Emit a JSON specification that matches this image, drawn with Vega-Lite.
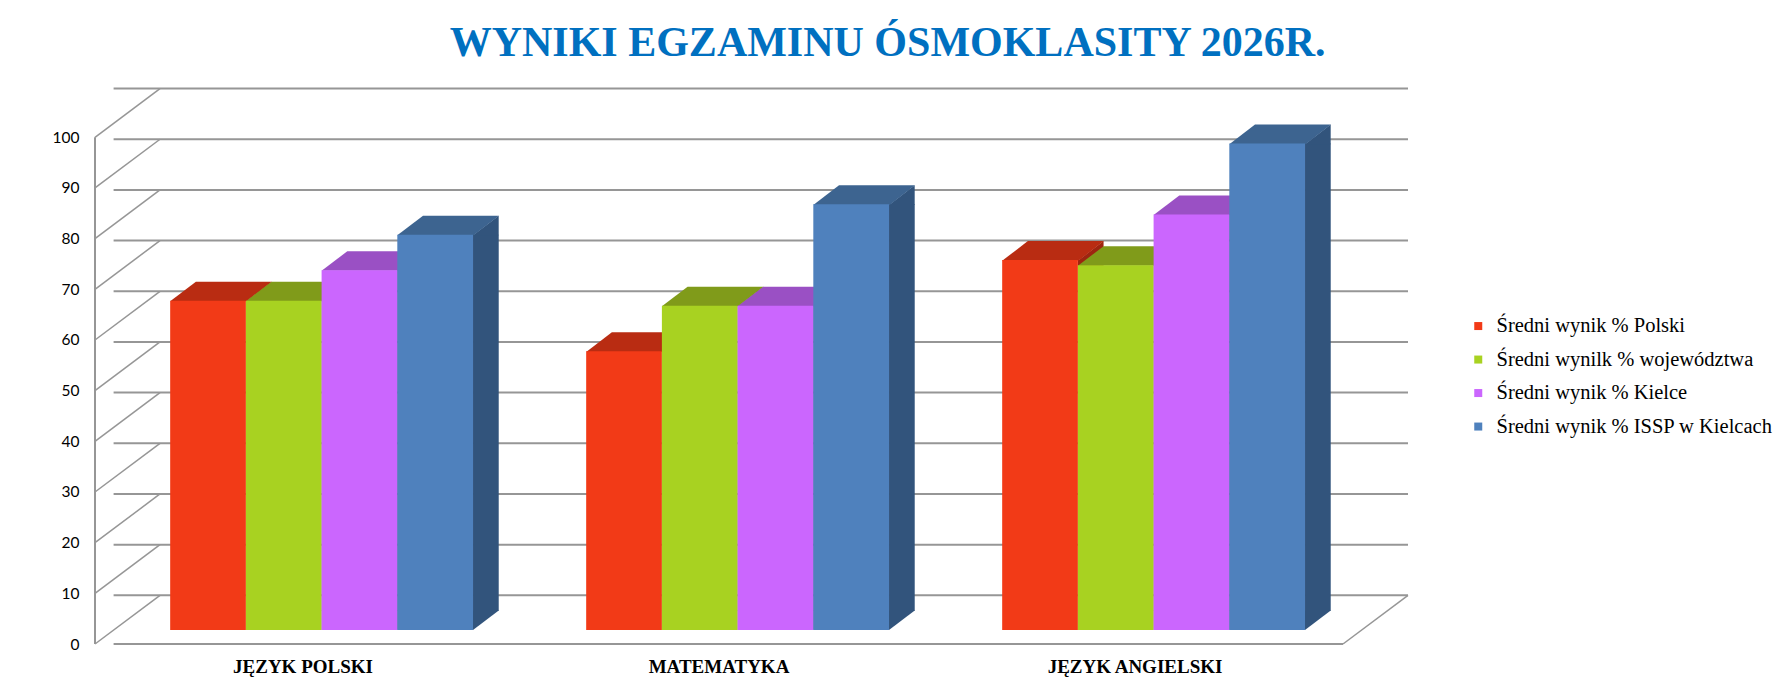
{
  "$schema": "https://vega.github.io/schema/vega-lite/v6.json",
  "description": "Wyniki egzaminu osmoklasisty 2026 - pseudo 3D grouped columns.",
  "autosize": {"type": "none"},
  "width": 1248,
  "height": 506.7,
  "padding": {"left": 113.6, "top": 123.3, "right": 428.4, "bottom": 62},
  "background": "white",
  "title": {
    "text": "WYNIKI EGZAMINU ÓSMOKLASITY 2026R.",
    "font": "Liberation Serif",
    "fontSize": 42,
    "fontWeight": "bold",
    "color": "#0070C0",
    "anchor": "middle",
    "frame": "group",
    "baseline": "alphabetic",
    "dx": 150,
    "dy": 44,
    "offset": 34
  },
  "datasets": {
    "scores": [
      {"subject": "JĘZYK POLSKI", "series": "Średni wynik % Polski", "value": 65},
      {"subject": "JĘZYK POLSKI", "series": "Średni wynilk % województwa", "value": 65},
      {"subject": "JĘZYK POLSKI", "series": "Średni wynik % Kielce", "value": 71},
      {"subject": "JĘZYK POLSKI", "series": "Średni wynik % ISSP w Kielcach", "value": 78},
      {"subject": "MATEMATYKA", "series": "Średni wynik % Polski", "value": 55},
      {"subject": "MATEMATYKA", "series": "Średni wynilk % województwa", "value": 64},
      {"subject": "MATEMATYKA", "series": "Średni wynik % Kielce", "value": 64},
      {"subject": "MATEMATYKA", "series": "Średni wynik % ISSP w Kielcach", "value": 84},
      {"subject": "JĘZYK ANGIELSKI", "series": "Średni wynik % Polski", "value": 73},
      {"subject": "JĘZYK ANGIELSKI", "series": "Średni wynilk % województwa", "value": 72},
      {"subject": "JĘZYK ANGIELSKI", "series": "Średni wynik % Kielce", "value": 82},
      {"subject": "JĘZYK ANGIELSKI", "series": "Średni wynik % ISSP w Kielcach", "value": 96}
    ],
    "ticks": [
      {"v": 0}, {"v": 10}, {"v": 20}, {"v": 30}, {"v": 40}, {"v": 50},
      {"v": 60}, {"v": 70}, {"v": 80}, {"v": 90}, {"v": 100}
    ]
  },
  "layer": [
    {
      "data": {"name": "ticks"},
      "mark": {"type": "rule", "color": "#969696", "strokeWidth": 2, "xOffset": 46.4, "x2Offset": 46.4, "yOffset": -34.7},
      "encoding": {
        "y": {"field": "v", "type": "quantitative", "title": null, "scale": {"domain": [0, 100], "nice": false}}
      }
    },
    {
      "data": {"name": "ticks"},
      "mark": {"type": "rule", "color": "#969696", "strokeWidth": 1.5, "xOffset": -18.6, "yOffset": 14, "x2Offset": 46.4, "y2Offset": -34.7},
      "encoding": {
        "x": {"value": 0},
        "x2": {"value": 0},
        "y": {"field": "v", "type": "quantitative", "title": null},
        "y2": {"field": "v"}
      }
    },
    {
      "data": {"name": "ticks"},
      "transform": [{"filter": "datum.v == 0"}],
      "mark": {"type": "rule", "color": "#969696", "strokeWidth": 2, "xOffset": -18.6, "x2Offset": -18.6, "yOffset": 14, "y2Offset": 14},
      "encoding": {
        "x": {"value": 0},
        "x2": {"value": 0},
        "y": {"field": "v", "type": "quantitative", "title": null},
        "y2": {"datum": 100}
      }
    },
    {
      "data": {"name": "ticks"},
      "transform": [{"filter": "datum.v == 0"}],
      "mark": {"type": "rule", "color": "#969696", "strokeWidth": 2, "xOffset": -18.6, "x2Offset": -18.6, "yOffset": 14},
      "encoding": {
        "y": {"field": "v", "type": "quantitative", "title": null}
      }
    },
    {
      "data": {"name": "ticks"},
      "transform": [{"filter": "datum.v == 0"}],
      "mark": {"type": "rule", "color": "#969696", "strokeWidth": 1.5, "xOffset": -18.6, "yOffset": 14, "x2Offset": 46.4, "y2Offset": -34.7},
      "encoding": {
        "x": {"value": "width"},
        "x2": {"value": "width"},
        "y": {"field": "v", "type": "quantitative", "title": null},
        "y2": {"field": "v"}
      }
    },
    {
      "data": {"name": "scores"},
      "mark": {"type": "bar", "width": 25.7, "y2Offset": -19, "cornerRadius": 0},
      "encoding": {
        "x": {"field": "subject", "type": "nominal", "sort": null, "title": null},
        "xOffset": {"field": "series", "type": "nominal", "sort": null, "scale": {"range": [50.7, 353.55], "paddingInner": 0, "paddingOuter": 0}},
        "y": {"field": "value", "type": "quantitative", "title": null},
        "y2": {"datum": 0},
        "color": {
          "field": "series", "type": "nominal", "legend": null,
          "scale": {
            "domain": ["Średni wynik % Polski", "Średni wynilk % województwa", "Średni wynik % Kielce", "Średni wynik % ISSP w Kielcach"],
            "range": ["#9E2510", "#6E8616", "#8544A8", "#32547C"]
          }
        }
      }
    },
    {
      "data": {"name": "scores"},
      "mark": {"type": "point", "filled": true, "opacity": 1, "size": 4, "strokeWidth": 0, "shape": "M37.85,0.6 L63.55,-19 L63.55,0.6 Z"},
      "encoding": {
        "x": {"field": "subject", "type": "nominal", "sort": null, "title": null},
        "xOffset": {"field": "series", "type": "nominal", "sort": null},
        "y": {"field": "value", "type": "quantitative", "title": null},
        "color": {
          "field": "series", "type": "nominal", "legend": null,
          "scale": {
            "domain": ["Średni wynik % Polski", "Średni wynilk % województwa", "Średni wynik % Kielce", "Średni wynik % ISSP w Kielcach"],
            "range": ["#9E2510", "#6E8616", "#8544A8", "#32547C"]
          }
        }
      }
    },
    {
      "data": {"name": "scores"},
      "mark": {"type": "point", "filled": true, "opacity": 1, "size": 4, "strokeWidth": 0, "shape": "M37.85,-19.6 L63.55,-19.6 L37.85,0 Z"},
      "encoding": {
        "x": {"field": "subject", "type": "nominal", "sort": null, "title": null},
        "xOffset": {"field": "series", "type": "nominal", "sort": null},
        "y": {"datum": 0, "type": "quantitative", "title": null},
        "color": {
          "field": "series", "type": "nominal", "legend": null,
          "scale": {
            "domain": ["Średni wynik % Polski", "Średni wynilk % województwa", "Średni wynik % Kielce", "Średni wynik % ISSP w Kielcach"],
            "range": ["#9E2510", "#6E8616", "#8544A8", "#32547C"]
          }
        }
      }
    },
    {
      "data": {"name": "scores"},
      "mark": {"type": "point", "filled": true, "opacity": 1, "size": 4, "strokeWidth": 0, "shape": "M-37.85,0.6 L38.4,0.6 L63.8,-19 L-12.15,-19 Z"},
      "encoding": {
        "x": {"field": "subject", "type": "nominal", "sort": null, "title": null},
        "xOffset": {"field": "series", "type": "nominal", "sort": null},
        "y": {"field": "value", "type": "quantitative", "title": null},
        "color": {
          "field": "series", "type": "nominal", "legend": null,
          "scale": {
            "domain": ["Średni wynik % Polski", "Średni wynilk % województwa", "Średni wynik % Kielce", "Średni wynik % ISSP w Kielcach"],
            "range": ["#B92C12", "#809B1A", "#9A50C4", "#3D6490"]
          }
        }
      }
    },
    {
      "data": {"name": "scores"},
      "mark": {"type": "bar", "cornerRadius": 0},
      "encoding": {
        "x": {
          "field": "subject", "type": "nominal", "sort": null, "title": null,
          "scale": {"paddingInner": 0.272, "paddingOuter": 0.136}
        },
        "xOffset": {"field": "series", "type": "nominal", "sort": null, "scale": {"paddingInner": 0, "paddingOuter": 0}},
        "y": {"field": "value", "type": "quantitative", "title": null},
        "color": {
          "field": "series", "type": "nominal",
          "scale": {
            "domain": ["Średni wynik % Polski", "Średni wynilk % województwa", "Średni wynik % Kielce", "Średni wynik % ISSP w Kielcach"],
            "range": ["#F23A17", "#A8D221", "#CB66FE", "#4F81BD"]
          },
          "legend": {
            "title": null, "orient": "none", "legendX": 1354.4, "legendY": 192.5,
            "padding": 0, "symbolType": "square", "symbolSize": 64, "symbolStrokeWidth": 0,
            "labelFont": "Liberation Serif", "labelFontSize": 20.5, "labelColor": "#000000",
            "labelOffset": 8, "rowPadding": 12.5, "labelLimit": 400
          }
        }
      }
    }
  ],
  "resolve": {"scale": {"color": "independent", "xOffset": "independent"}},
  "config": {
    "view": {"stroke": null},
    "axisX": {
      "domain": false, "ticks": false, "grid": false, "labelAngle": 0,
      "labelFont": "Liberation Serif", "labelFontWeight": "bold", "labelFontSize": 19,
      "labelColor": "#000000", "labelOffset": -18.6, "labelBaseline": "alphabetic", "labelPadding": 42
    },
    "axisY": {
      "domain": false, "ticks": false, "grid": false, "tickCount": 10,
      "labelFont": "Lato", "labelFontSize": 15.5, "labelColor": "#000000",
      "labelOffset": 14, "labelPadding": 34.6
    }
  }
}
